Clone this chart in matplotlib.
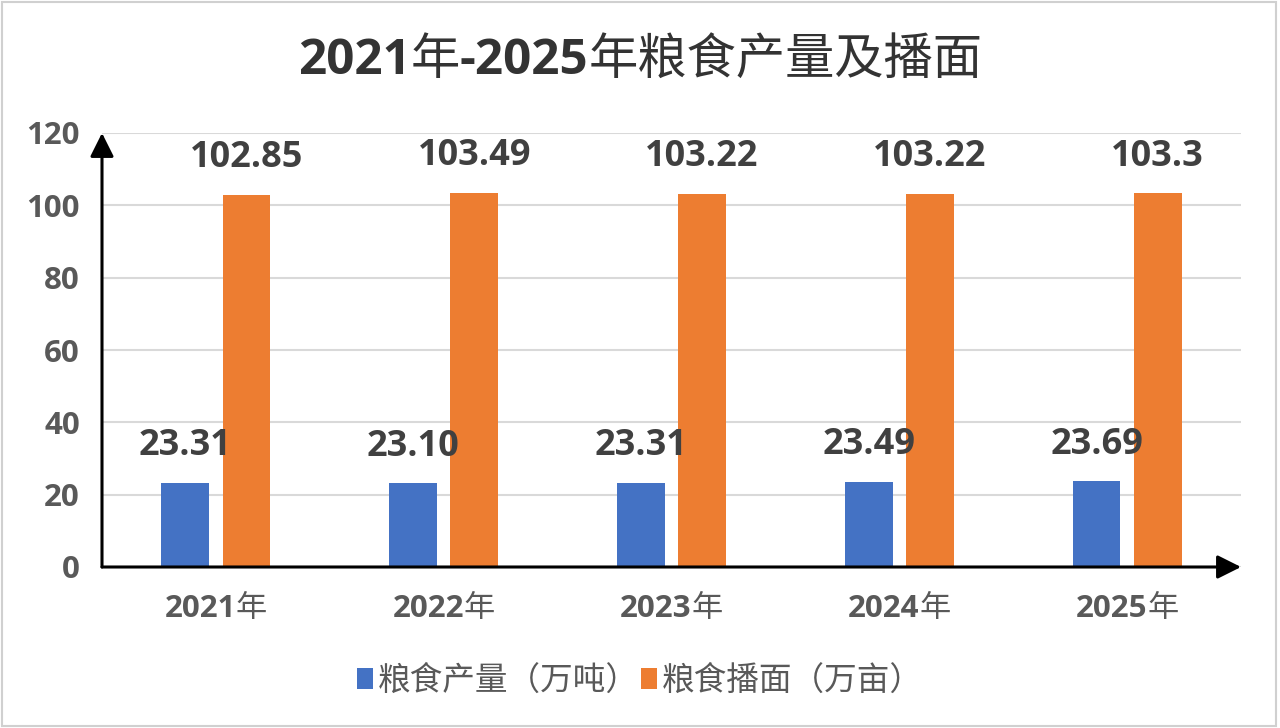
import matplotlib
matplotlib.use("Agg")
import matplotlib.pyplot as plt
from matplotlib.font_manager import FontProperties
from matplotlib.patches import Rectangle

# ---- data ----
years = ["2021", "2022", "2023", "2024", "2025"]
year_suffix = "年"
production = [23.31, 23.10, 23.31, 23.49, 23.69]     # 粮食产量（万吨）
area = [102.85, 103.49, 103.22, 103.22, 103.3]       # 粮食播面（万亩）
series_names = ["粮食产量（万吨）", "粮食播面（万亩）"]
title_pieces = [("2021", "b"), ("年", "r"), ("-2025", "b"), ("年粮食产量及播面", "r")]
yticks = [0, 20, 40, 60, 80, 100, 120]

W, H = 1280, 728
BLUE = "#4472C4"
ORANGE = "#ED7D31"

bold_latin = FontProperties(family=["Open Sans", "Noto Sans CJK SC"], weight="bold")
reg_cjk = FontProperties(family=["Noto Sans CJK SC", "DejaVu Sans"], weight="normal")

plt.rcParams["font.family"] = ["Noto Sans CJK SC", "DejaVu Sans"]

fig = plt.figure(figsize=(W / 100, H / 100), dpi=100)
fig.patch.set_facecolor("white")
ax = fig.add_axes([102 / W, 1 - 567 / H, (1241 - 102) / W, (567 - 133) / H])

x = list(range(len(years)))
bw = 0.21
off = 0.134
xb = [i - off for i in x]
xo = [i + off for i in x]
ax.bar(xb, production, width=bw, color=BLUE, zorder=3, label=series_names[0])
ax.bar(xo, area, width=bw, color=ORANGE, zorder=3, label=series_names[1])

ax.set_xlim(-0.5, len(years) - 0.5)
ax.set_ylim(0, 120)
ax.set_yticks(yticks)
ax.set_yticklabels([str(v) for v in yticks], fontproperties=bold_latin, fontsize=22.5, color="#595959")
ax.tick_params(axis="y", length=0, pad=16)
ax.set_xticks([])
ax.grid(axis="y", color="#D9D9D9", lw=1.5, zorder=0)
for s in ax.spines.values():
    s.set_visible(False)

# axes with arrows
arrow_kw = dict(arrowstyle="-|>,head_length=0.4,head_width=0.2", color="black", lw=2.2,
                mutation_scale=36, shrinkA=0, shrinkB=0)
ax.annotate("", xy=(0, 1), xytext=(0, 0), xycoords="axes fraction", textcoords="axes fraction",
            arrowprops=arrow_kw, zorder=5, annotation_clip=False)
ax.annotate("", xy=(1, 0), xytext=(0, 0), xycoords="axes fraction", textcoords="axes fraction",
            arrowprops=arrow_kw, zorder=5, annotation_clip=False)

# data labels
for xi, v in zip(xb, production):
    ax.annotate(f"{v:.2f}", xy=(xi, v), xytext=(0, 20), textcoords="offset points",
                ha="center", va="baseline", fontproperties=bold_latin, fontsize=26, color="#404040")
for xi, v in zip(xo, area):
    ax.annotate(str(v), xy=(xi, v), xytext=(0, 20), textcoords="offset points",
                ha="center", va="baseline", fontproperties=bold_latin, fontsize=26, color="#404040")

renderer = fig.canvas.get_renderer()


def mixed_text(cx_px, base_px, pieces, size, color):
    texts = []
    for s, kind in pieces:
        fp = bold_latin if kind == "b" else reg_cjk
        t = fig.text(0, 0, s, fontproperties=fp, fontsize=size, color=color,
                     ha="left", va="baseline")
        texts.append(t)
    widths = [t.get_window_extent(renderer).width for t in texts]
    xpos = cx_px - sum(widths) / 2
    for t, w in zip(texts, widths):
        t.set_position((xpos / W, 1 - base_px / H))
        xpos += w


# title
mixed_text(640, 74, title_pieces, 35.5, "#333333")

# x tick labels
for i, yr in enumerate(years):
    px = ax.transData.transform((i, 0))[0]
    mixed_text(px, 617, [(yr, "b"), (year_suffix, "r")], 22.5, "#595959")

# legend
leg = fig.legend(loc="center", bbox_to_anchor=(0.5, 1 - 681 / H), ncol=2, frameon=False,
                 prop=FontProperties(family=["Noto Sans CJK SC", "DejaVu Sans"], size=23.5),
                 handlelength=0.5, handleheight=0.6, handletextpad=0.15, columnspacing=0.05)
for t in leg.get_texts():
    t.set_color("#595959")

# outer border
fig.patches.append(Rectangle((2 / W, 2 / H), (1276 - 2) / W, (726 - 2) / H, transform=fig.transFigure,
                             fill=False, edgecolor="#D0D0D0", lw=1.5, zorder=10))

fig.savefig("out.png", dpi=100, facecolor="white")
